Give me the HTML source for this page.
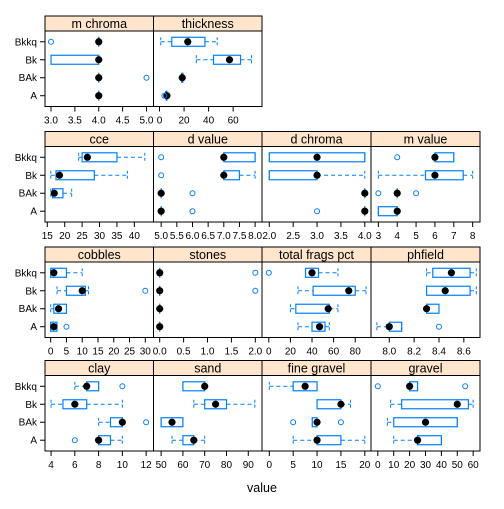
<!DOCTYPE html>
<html><head><meta charset="utf-8"><style>
body{margin:0;background:#fff}
svg text{font-family:"Liberation Sans",sans-serif}
</style></head><body>
<svg id="c" width="504" height="504" xmlns="http://www.w3.org/2000/svg"></svg>
<script>
const levels = ["A","BAk","Bk","Bkkq"];
const panelNames = ["m_chroma","thickness","cce","d_value","d_chroma","m_value","cobbles","stones","total_frags_pct","phfield","clay","sand","fine_gravel","gravel"];
const panelDomains = [[2.874,5.147],[-4.9,83.5],[14.34,45.5],[4.755,8.22],[1.847,4.13],[2.61,8.39],[-1.8,32.6],[-0.13,2.14],[-6.3,94.6],[7.853,8.73],[3.49,12.62],[46.5,96.3],[-1.53,21.3],[-4.3,64.3]];
const panelTicks = [[3.0,3.5,4.0,4.5,5.0],[0,20,40,60],[15,20,25,30,35,40],[5.0,5.5,6.0,6.5,7.0,7.5,8.0],[2.0,2.5,3.0,3.5,4.0],[3,4,5,6,7,8],[0,5,10,15,20,25,30],[0.0,0.5,1.0,1.5,2.0],[0,20,40,60,80],[8.0,8.2,8.4,8.6],[4,6,8,10,12],[50,60,70,80,90],[0,5,10,15,20],[0,10,20,30,40,50,60]];
const tickLabels = [["3.0","3.5","4.0","4.5","5.0"],["0","20","40","60"],["15","20","25","30","35","40"],["5.0","5.5","6.0","6.5","7.0","7.5","8.0"],["2.0","2.5","3.0","3.5","4.0"],["3","4","5","6","7","8"],["0","5","10","15","20","25","30"],["0.0","0.5","1.0","1.5","2.0"],["0","20","40","60","80"],["8.0","8.2","8.4","8.6"],["4","6","8","10","12"],["50","60","70","80","90"],["0","5","10","15","20"],["0","10","20","30","40","50","60"]];
// per level (A,BAk,Bk,Bkkq): [lowWhisker, q1, median, q3, highWhisker, outliers]
const statsMChroma = [[4,4,4,4,4,[]],[4,4,4,4,4,[5]],[3,3,4,4,4,[]],[4,4,4,4,4,[3]]];
const statsThickness = [[5,5.5,6,6,6,[4]],[18,18,18.5,19,19,[]],[30,44,57,66,75,[]],[1,10,23,37,47,[]]];
const statsCce = [[null,null,null,null,null,[]],[16,16.5,17,19.5,22,[]],[16,17.5,18.5,28.5,38,[]],[24,25,26.5,35,43,[]]];
const statsDValue = [[5,5,5,5,5,[6]],[5,5,5,5,5,[6]],[7,7,7,7.5,8,[5]],[7,7,7,8,8,[5]]];
const statsDChroma = [[4,4,4,4,4,[3]],[4,4,4,4,4,[]],[2,2,3,3,4,[]],[2,2,3,4,4,[]]];
const statsMValue = [[3,3,4,4,4,[]],[4,4,4,4,4,[3,5]],[3,5.5,6,7.5,8,[]],[6,6,6,7,7,[4]]];
const statsCobbles = [[0,0,1,2,2,[5]],[0,1,2.5,5,5,[]],[2,5,10,11,12,[30]],[0,0,1,5,10,[]]];
const statsStones = [[0,0,0,0,0,[]],[0,0,0,0,0,[]],[0,0,0,0,0,[2]],[0,0,0,0,0,[2]]];
const statsFrags = [[27,40,47,52,56,[]],[20,25,55,56,64,[]],[27,41,74,80,90,[]],[34,34,40,46,64,[0]]];
const statsPh = [[7.9,8.0,8.0,8.1,8.1,[8.4]],[8.3,8.3,8.3,8.4,8.4,[]],[8.3,8.3,8.45,8.65,8.7,[]],[8.3,8.35,8.5,8.65,8.7,[]]];
const statsClay = [[8,8,8,9,10,[6]],[8,9,10,10,10,[12]],[4,5,6,7,10,[]],[6,7,7,8,8,[10]]];
const statsSand = [[55,60,65,65,70,[]],[50,50,55,60,60,[]],[65,70,75,80,93,[]],[60,60,70,70,70,[]]];
const statsFine = [[5,10,10,15,20,[]],[9,9,10,10,10,[5,15]],[10,10,15,15,17,[]],[0,5,7.5,10,10,[]]];
const statsGravel = [[10,25,25,40,40,[]],[6,10,30,50,50,[]],[8,15,50,57,60,[]],[20,20,20,25,25,[0,55]]];
const allStats = [statsMChroma,statsThickness,statsCce,statsDValue,statsDChroma,statsMValue,statsCobbles,statsStones,statsFrags,statsPh,statsClay,statsSand,statsFine,statsGravel];

const svg=document.getElementById('c');
const NS='http://www.w3.org/2000/svg';
function mk(tag,at,parent){const e=document.createElementNS(NS,tag);for(const k in at)e.setAttribute(k,at[k]);(parent||svg).appendChild(e);return e;}
const colX=[45,153.5,262,371,480];
const rowTop=[16,131.5,247,360.5];
const stripH=15, panH=75.5;
const blue='#0080ff';
const panelRow=[0,0,1,1,1,1,2,2,2,2,3,3,3,3];
const panelCol=[0,1,0,1,2,3,0,1,2,3,0,1,2,3];

for(let p=0;p<panelNames.length;p++){
  const r=panelRow[p], c=panelCol[p];
  const x0=colX[c], x1=colX[c+1], st=rowTop[r], py0=st+stripH, py1=py0+panH;
  const [lo,hi]=panelDomains[p];
  const sx=v=>x0+(v-lo)/(hi-lo)*(x1-x0);
  const sy=i=>py1-(i+1-0.4)/4.2*panH;
  const g=mk('g',{});
  
  
  const strip=mk('rect',{x:x0,y:st,width:x1-x0,height:stripH,fill:'#ffe5cc',stroke:'#000','stroke-width':1},g);
  
  
  const stt=mk('text',{x:(x0+x1)/2,y:st+12,'text-anchor':'middle','font-size':'12.5'},g);
  stt.textContent=panelNames[p].replace(/_/g,' ');
  
  
  // ticks
  panelTicks[p].forEach((t,k)=>{
    const x=sx(t);
    mk('line',{x1:x,x2:x,y1:py1,y2:py1+5,stroke:'#000'},g);
    const tl=mk('text',{x:x,y:py1+17,'text-anchor':'middle','font-size':'10'},g);
    tl.textContent=tickLabels[p][k];
    
    
  });
  if(c===0){
    levels.forEach((lv,i)=>{
      mk('line',{x1:x0-5,x2:x0,y1:sy(i),y2:sy(i),stroke:'#000'},g);
      const yl=mk('text',{x:x0-8,y:sy(i)+3.5,'text-anchor':'end','font-size':'10'},g);
      yl.textContent=lv;
      
      
    });
  }
  allStats[p].forEach((s,i)=>{
    const y=sy(i);const bh=4.5;
    const bg=mk('g',{},g);
    
    
    if(s[2]!==null){
      const [wl,q1,md,q3,wh]=s;
      if(wl<q1) mk('line',{x1:sx(wl),x2:sx(q1),y1:y,y2:y,stroke:blue,'stroke-dasharray':'4,3'},bg);
      if(wh>q3) mk('line',{x1:sx(q3),x2:sx(wh),y1:y,y2:y,stroke:blue,'stroke-dasharray':'4,3'},bg);
      mk('line',{x1:sx(wl),x2:sx(wl),y1:y-bh,y2:y+bh,stroke:blue,'stroke-dasharray':'3,2'},bg);
      mk('line',{x1:sx(wh),x2:sx(wh),y1:y-bh,y2:y+bh,stroke:blue,'stroke-dasharray':'3,2'},bg);
      mk('rect',{x:sx(q1),y:y-bh,width:Math.max(sx(q3)-sx(q1),0.01),height:2*bh,fill:'none',stroke:blue,'stroke-width':1.2},bg);
      const d=mk('circle',{cx:sx(md),cy:y,r:3.6,fill:'#000'},bg);
      
      
    }
    s[5].forEach(o=>{
      const oc=mk('circle',{cx:sx(o),cy:y,r:2.5,fill:'none',stroke:blue},bg);
      
      
    });
  });
  mk('rect',{x:x0,y:py0,width:x1-x0,height:panH,fill:'none',stroke:'#000','stroke-width':1},g);
}
const xt=mk('text',{x:262,y:492,'text-anchor':'middle','font-size':'12.5'});
xt.textContent='value';


</script>
</body></html>
